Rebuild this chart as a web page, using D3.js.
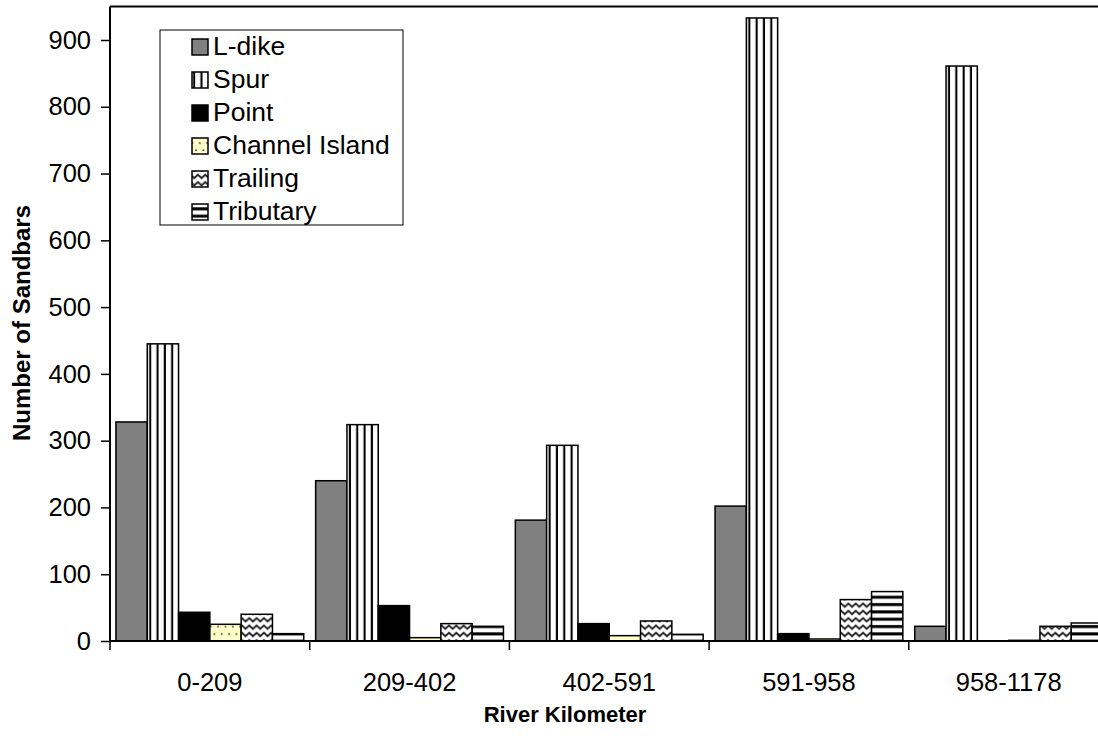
<!DOCTYPE html>
<html>
<head>
<meta charset="utf-8">
<script src="https://cdn.jsdelivr.net/npm/d3@7"></script>
<style>
  html, body { margin: 0; padding: 0; background: #fff; }
  svg { display: block; font-family: "Liberation Sans", Arial, sans-serif; }
</style>
</head>
<body>
<svg id="chart" width="1098" height="736"></svg>
<script>
// River reaches along the x axis
const categories = ["0-209", "209-402", "402-591", "591-958", "958-1178"];
// Sandbar types (one bar per type in every reach)
const seriesNames = ["L-dike", "Spur", "Point", "Channel Island", "Trailing", "Tributary"];
// Counts of sandbars per type, by reach
const lDike     = [328, 240, 181, 202, 22];
const spur      = [445, 324, 293, 933, 861];
const point     = [43, 53, 26, 11, 0];
const channel   = [25, 5, 8, 3, 1];
const trailing  = [40, 26, 30, 62, 22];
const tributary = [11, 22, 10, 74, 27];
const yTicks = [0, 100, 200, 300, 400, 500, 600, 700, 800, 900];

const seriesValues = [lDike, spur, point, channel, trailing, tributary];

const svg = d3.select("#chart");
const plot = { left: 110, right: 1108.5, top: 6.6, bottom: 641 };

const x0 = d3.scaleBand().domain(categories).range([plot.left, plot.right]).padding(0);
const x1 = d3.scaleBand().domain(seriesNames).range([0, x0.bandwidth()])
  .paddingInner(0).paddingOuter(0.19);
const y = d3.scaleLinear().domain([0, 950]).range([plot.bottom, plot.top]);

// Fill patterns for each sandbar type
const defs = svg.append("defs");
const P = 7.33;
function pat(id, w, h) {
  return defs.append("pattern").attr("id", id)
    .attr("patternUnits", "userSpaceOnUse").attr("width", w).attr("height", h);
}
let p = pat("pSpur", P, P);
p.append("rect").attr("width", P).attr("height", P).attr("fill", "#fff");
p.append("rect").attr("x", 2.5).attr("width", 2.1).attr("height", P).attr("fill", "#000");

p = pat("pChannel", P, 2 * P);
p.append("rect").attr("width", P).attr("height", 2 * P).attr("fill", "#ffffc8");
p.append("circle").attr("cx", 1.8).attr("cy", 3.6).attr("r", 0.95).attr("fill", "#444");
p.append("circle").attr("cx", 5.5).attr("cy", 10.9).attr("r", 0.95).attr("fill", "#444");

p = pat("pTrailing", P, P);
p.append("rect").attr("width", P).attr("height", P).attr("fill", "#fff");
p.append("path").attr("d", `M-1,1.5 L${P / 2},5.8 L${P + 1},1.5`)
  .attr("fill", "none").attr("stroke", "#222").attr("stroke-width", 1.8);

p = pat("pTributary", P, P);
p.append("rect").attr("width", P).attr("height", P).attr("fill", "#fff");
p.append("rect").attr("y", 2).attr("width", P).attr("height", 3).attr("fill", "#000");

const fills = ["#808080", "url(#pSpur)", "#000000", "url(#pChannel)", "url(#pTrailing)", "url(#pTributary)"];

// Plot area frame (top and right edges)
svg.append("path")
  .attr("d", `M${plot.left},${plot.top} H${plot.right} V${plot.bottom}`)
  .attr("fill", "none").attr("stroke", "#000").attr("stroke-width", 2);

// Bars
const groups = svg.append("g").selectAll("g").data(categories).join("g")
  .attr("transform", d => `translate(${x0(d)},0)`);
groups.selectAll("rect")
  .data((c, ci) => seriesNames.map((s, si) => ({ s, si, v: seriesValues[si][ci] })))
  .join("rect")
  .attr("x", d => x1(d.s))
  .attr("width", x1.bandwidth())
  .attr("y", d => y(d.v))
  .attr("height", d => y(0) - y(d.v))
  .attr("fill", d => fills[d.si])
  .attr("stroke", "#000").attr("stroke-width", 1.5);

// Y axis
const yAxis = svg.append("g").attr("transform", `translate(${plot.left},0)`)
  .call(d3.axisLeft(y).tickValues(yTicks).tickSize(9).tickPadding(10).tickFormat(d3.format("d")));
yAxis.select(".domain").attr("d", `M0,${plot.top}V${plot.bottom}`).attr("stroke-width", 2);
yAxis.selectAll(".tick line").attr("stroke-width", 1.5);
yAxis.selectAll("text").attr("font-size", 25.5).attr("fill", "#000")
  .attr("font-family", "Liberation Sans, Arial, sans-serif");

// X axis: baseline, boundary ticks and centred category labels
const xAxis = svg.append("g").attr("transform", `translate(0,${plot.bottom})`);
xAxis.append("line").attr("x1", plot.left).attr("x2", plot.right)
  .attr("stroke", "#000").attr("stroke-width", 2);
const bounds = categories.map(c => x0(c)).concat([plot.right]);
xAxis.selectAll("line.b").data(bounds).join("line").attr("class", "b")
  .attr("x1", d => d).attr("x2", d => d).attr("y1", 0).attr("y2", 9)
  .attr("stroke", "#000").attr("stroke-width", 1.5);
xAxis.selectAll("text").data(categories).join("text")
  .attr("x", d => x0(d) + x0.bandwidth() / 2).attr("y", 50)
  .attr("text-anchor", "middle").attr("font-size", 25.5).text(d => d);

// Axis titles
svg.append("text").attr("x", 565).attr("y", 722).attr("text-anchor", "middle")
  .attr("font-size", 22).attr("font-weight", "bold").text("River Kilometer");
svg.append("text").attr("transform", "translate(30,323) rotate(-90)")
  .attr("text-anchor", "middle").attr("font-size", 24).attr("font-weight", "bold")
  .text("Number of Sandbars");

// Legend
const legend = svg.append("g");
legend.append("rect").attr("x", 160).attr("y", 30).attr("width", 243).attr("height", 195)
  .attr("fill", "#fff").attr("stroke", "#000").attr("stroke-width", 1);
const rows = legend.selectAll("g.row").data(seriesNames).join("g").attr("class", "row")
  .attr("transform", (d, i) => `translate(0,${55 + i * 33})`);
rows.append("rect").attr("x", 192).attr("y", -16).attr("width", 16).attr("height", 16)
  .attr("fill", (d, i) => fills[i]).attr("stroke", "#000").attr("stroke-width", 1.5);
rows.append("text").attr("x", 213).attr("y", 0).attr("font-size", 26.5).text(d => d);
</script>
</body>
</html>
